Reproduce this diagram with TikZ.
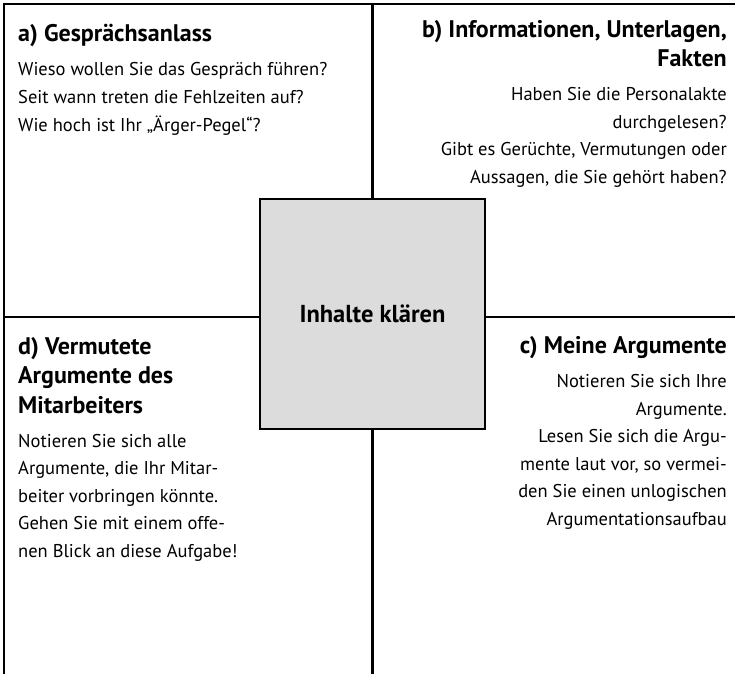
\documentclass[tikz,border=0pt]{standalone}
\usepackage{fontspec}
\setmainfont{PT Sans}
\usetikzlibrary{calc,positioning}
\definecolor{Ink}{HTML}{000000}
\definecolor{BoxGray}{HTML}{DCDCDC}
\tikzset{core/.style={draw=Ink,fill=BoxGray,line width=2.2pt,minimum width=225pt,minimum height=230pt,font=\fontsize{24.5}{29.5}\selectfont\bfseries},rule/.style={draw=Ink,line width=2.4pt},head/.style={inner sep=0pt,font=\fontsize{24}{29.5}\selectfont\bfseries},body/.style={inner sep=0pt,font=\fontsize{18.5}{27.5}\selectfont}}
\begin{document}
\begin{tikzpicture}[x=1pt,y=-1pt]
  \useasboundingbox(0,0)rectangle(735,674);
  \node[core](kern)at(372.5,314){Inhalte klären};
  \coordinate(tl)at(4,4);\coordinate(tr)at(735,4);\coordinate(bl)at(4,674);
  \coordinate(tm)at(372.5,4);\coordinate(bm)at(372.5,674);
  \coordinate(ml)at(4,317);\coordinate(mr)at(735,317);
  \draw[rule](bl)--(tl)--(tr);
  \draw[rule](tm)--(kern.north);\draw[rule](kern.south)--(bm);
  \draw[rule](ml)--(ml-|kern.west);\draw[rule](kern.east|-mr)--(mr);
  % quadrant a (base = last line)
  \node[head,anchor=base west,align=left](ha)at(18,42){a) Gesprächsanlass};
  \node[body,anchor=base west,align=left](ta)at(18,131){Wieso wollen Sie das Gespräch führen?\\Seit wann treten die Fehlzeiten auf?\\Wie hoch ist Ihr „Ärger-Pegel“?};
  % quadrant b
  \node[head,anchor=base east,align=right](hb)at(727,67){b) Informationen, Unterlagen,\\Fakten};
  \node[body,anchor=base east,align=right](tb)at(727,183){Haben Sie die Personalakte\\durchgelesen?\\Gibt es Gerüchte, Vermutungen oder\\Aussagen, die Sie gehört haben?};
  % quadrant c
  \node[head,anchor=base east,align=right](hc)at(727,353){c) Meine Argumente};
  \node[body,anchor=base east,align=right](tc)at(727,525){Notieren Sie sich Ihre\\Argumente.\\Lesen Sie sich die Argu-\\mente laut vor, so vermei-\\den Sie einen unlogischen\\Argumentationsaufbau};
  % quadrant d
  \node[head,anchor=base west,align=left](hd)at(18,413){d) Vermutete\\Argumente des\\Mitarbeiters};
  \node[body,anchor=base west,align=left](td)at(18,557){Notieren Sie sich alle\\Argumente, die Ihr Mitar-\\beiter vorbringen könnte.\\Gehen Sie mit einem offe-\\nen Blick an diese Aufgabe!};
\end{tikzpicture}
\end{document}
